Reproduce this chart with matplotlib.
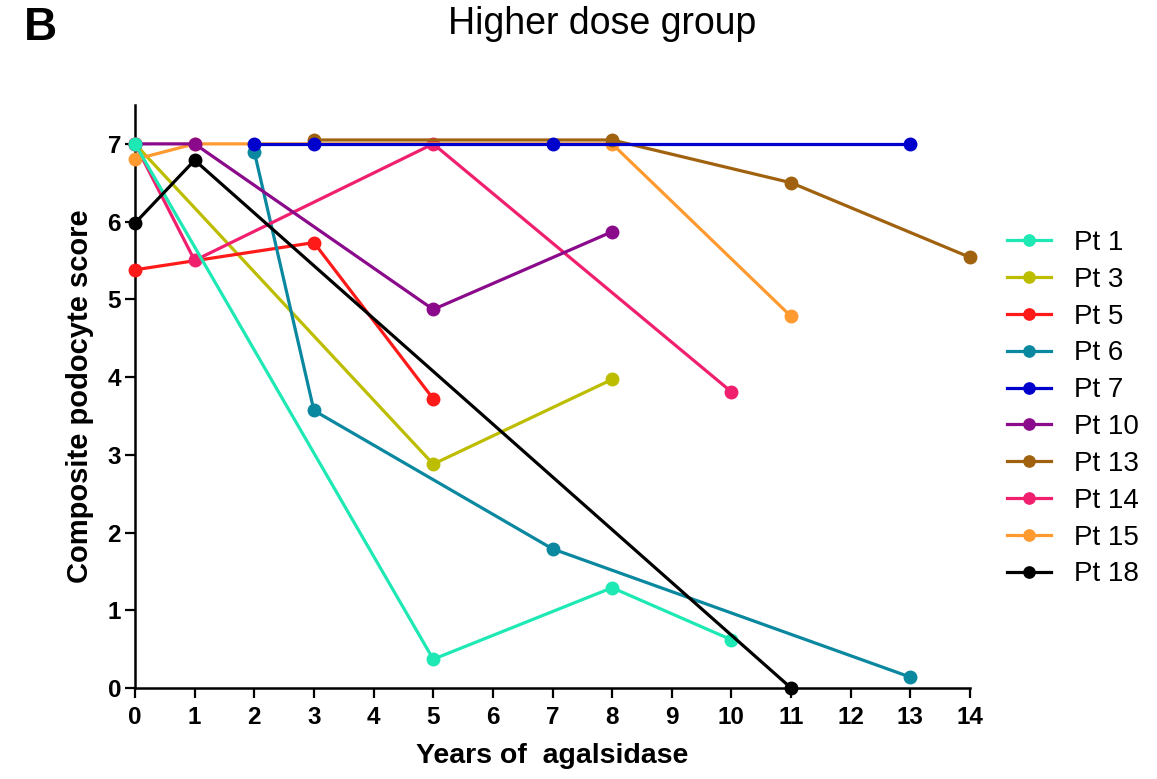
import matplotlib
matplotlib.use("Agg")
import matplotlib.pyplot as plt

plt.rcParams['font.family'] = ['Liberation Sans', 'DejaVu Sans']

labels = ["Pt 1", "Pt 3", "Pt 5", "Pt 6", "Pt 7", "Pt 10", "Pt 13", "Pt 14", "Pt 15", "Pt 18"]
colors = ["#1EE8B4", "#BDBD00", "#FF1A1A", "#0A88A0", "#0000CC", "#8B0A8B", "#A0620F", "#F0206E", "#FF9A30", "#000000"]

pt1_x = [0, 5, 8, 10];        pt1_y = [7.0, 0.37, 1.29, 0.62]
pt3_x = [0, 5, 8];            pt3_y = [7.0, 2.88, 3.97]
pt5_x = [0, 3, 5];            pt5_y = [5.38, 5.73, 3.72]
pt6_x = [2, 3, 7, 13];        pt6_y = [6.9, 3.57, 1.79, 0.14]
pt7_x = [2, 3, 7, 13];        pt7_y = [7.0, 7.0, 7.0, 7.0]
pt10_x = [0, 1, 5, 8];        pt10_y = [7.0, 7.0, 4.87, 5.87]
pt13_x = [3, 8, 11, 14];      pt13_y = [7.05, 7.05, 6.5, 5.54]
pt14_x = [0, 1, 5, 10];       pt14_y = [7.0, 5.5, 7.0, 3.81]
pt15_x = [0, 1, 8, 11];       pt15_y = [6.8, 7.0, 7.0, 4.78]
pt18_x = [0, 1, 11];          pt18_y = [5.98, 6.79, 0.0]

series = [(pt1_x, pt1_y), (pt3_x, pt3_y), (pt5_x, pt5_y), (pt6_x, pt6_y), (pt7_x, pt7_y),
          (pt10_x, pt10_y), (pt13_x, pt13_y), (pt14_x, pt14_y), (pt15_x, pt15_y), (pt18_x, pt18_y)]

x_ticks = list(range(0, 15))
y_ticks = list(range(0, 8))

fig = plt.figure(figsize=(11.57, 7.79), dpi=100)
ax = fig.add_axes([135/1157, 1 - 688/779, (970-135)/1157, (688-105)/779])

# drawing order (bottom to top)
order = [1, 2, 3, 7, 8, 6, 4, 5, 0, 9]
handles = [None]*len(series)
for z, i in enumerate(order):
    xs, ys = series[i]
    h, = ax.plot(xs, ys, color=colors[i], lw=2.3, marker='o', ms=9, label=labels[i],
                 clip_on=False, zorder=3+z)
    handles[i] = h

ax.set_xlim(0, 14)
ax.set_ylim(0, 7.5)
ax.set_xticks(x_ticks)
ax.set_yticks(y_ticks)
ax.tick_params(direction='out', length=7, width=1.6, labelsize=17.5)
ax.tick_params(axis='x', pad=6)
ax.tick_params(axis='y', pad=3)
for lab in ax.get_xticklabels() + ax.get_yticklabels():
    lab.set_fontweight('bold')
for s in ['top', 'right']:
    ax.spines[s].set_visible(False)
for s in ['left', 'bottom']:
    ax.spines[s].set_linewidth(1.8)

ax.set_xlabel("Years of  agalsidase", fontsize=20.5, fontweight='bold', labelpad=10)
ax.set_ylabel("Composite podocyte score", fontsize=21, fontweight='bold', labelpad=10)

fig.text(602/1157, 1 - 24/779, "Higher dose group", fontsize=27, ha='center', va='center')
fig.text(24/1157, 1 - 28/779, "B", fontsize=33, fontweight='bold', ha='left', va='center')

fig.legend(handles=handles, labels=labels, loc='upper left',
           bbox_to_anchor=(993/1157, 1 - 216/779), frameon=False, fontsize=20,
           handlelength=1.6, handletextpad=0.8, labelspacing=0.39, borderpad=0,
           markerscale=0.9)

fig.savefig("out.png", dpi=100)
